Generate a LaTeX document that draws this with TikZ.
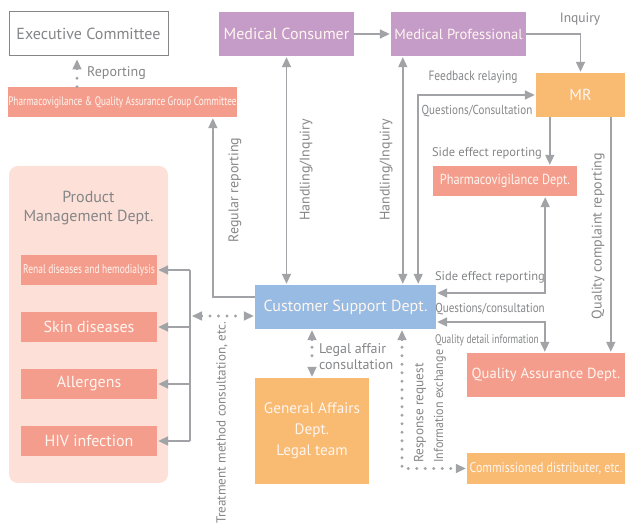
\documentclass[tikz,border=0pt]{standalone}
\usepackage{fontspec}
\setmainfont{PT Sans}
\newfontfamily\condfont[FakeStretch=0.85]{PT Sans}
\newfontfamily\ccondfont[FakeStretch=0.75]{PT Sans}
\newfontfamily\lcondfont[FakeStretch=0.93]{PT Sans}
\usetikzlibrary{arrows.meta,calc}
\definecolor{lgray}{HTML}{A2A3A6}
\definecolor{tgray}{HTML}{858688}
\definecolor{purp}{HTML}{C59CC8}
\definecolor{salm}{HTML}{F59D8D}
\definecolor{oran}{HTML}{F9BA72}
\definecolor{blu}{HTML}{97BBE2}
\definecolor{lpink}{HTML}{FDE0D8}
\definecolor{boxtext}{HTML}{FFF6F0}
\begin{document}
\begin{tikzpicture}[x=1pt,y=-1pt,
 box/.style={inner sep=0pt, align=center, text=boxtext, font=\fontsize{16}{21}\selectfont},
 cbox/.style={box, font=\condfont\fontsize{14}{16}\selectfont},
 lbl/.style={text=tgray, font=\fontsize{14}{16}\selectfont, inner sep=0pt},
 clbl/.style={text=tgray, font=\condfont\fontsize{13}{16}\selectfont, inner sep=0pt},
 tip/.tip={Triangle[length=10pt,width=9pt]},
 arr/.style={draw=lgray, line width=1.6pt, -tip, shorten >=1pt},
 dbl/.style={draw=lgray, line width=1.6pt, tip-tip, shorten >=1pt, shorten <=1pt},
 tiponly/.style={draw=lgray, line width=1.6pt, -tip},
 dots/.style={draw=lgray, line width=3.2pt, line cap=round, dash pattern=on 0pt off 8.5pt},
]
\useasboundingbox[fill=white] (0,0) rectangle (625,526);

% boxes
\node[box, draw=tgray, line width=1pt, fill=white, text=tgray, minimum width=159, minimum height=44] (exec) at (88.5,34) {Executive Committee};
\node[box, fill=purp, minimum width=135, minimum height=44] (mc) at (286.5,34) {Medical Consumer};
\node[box, fill=purp, minimum width=135, minimum height=44, font=\fontsize{14.6}{21}\selectfont] (mp) at (458.5,34) {Medical Professional};
\node[box, fill=oran, minimum width=89, minimum height=44] (mr) at (580.5,95) {MR};
\node[cbox, fill=salm, minimum width=227, minimum height=30, font=\ccondfont\fontsize{12.3}{15}\selectfont] (pqa) at (122.5,102) {Pharmacovigilance \& Quality Assurance Group Committee};
\node[cbox, fill=salm, minimum width=144, minimum height=30, font=\condfont\fontsize{14.5}{16}\selectfont] (pv) at (505,181) {Pharmacovigilance Dept.};
\node[fill=lpink, rounded corners=9pt, minimum width=159, minimum height=317, inner sep=0pt] (pm) at (88.5,324.5) {};
\node[text=tgray, align=center, font=\fontsize{16}{19}\selectfont, inner sep=0pt] (pmt) at (88.5,208) {Product\\Management Dept.};
\node[cbox, fill=salm, minimum width=136, minimum height=30, font=\ccondfont\fontsize{12.6}{15}\selectfont] (renal) at (89,270) {Renal diseases and hemodialysis};
\node[box, fill=salm, minimum width=136, minimum height=30] (skin) at (89,327) {Skin diseases};
\node[box, fill=salm, minimum width=136, minimum height=30] (allerg) at (89,384) {Allergens};
\node[box, fill=salm, minimum width=136, minimum height=30] (hiv) at (89,441) {HIV infection};
\node[box, fill=blu, minimum width=181, minimum height=44] (csd) at (345.5,307) {Customer Support Dept.};
\node[box, fill=salm, minimum width=158, minimum height=44, font=\fontsize{14.6}{21}\selectfont] (qa) at (546,375) {Quality Assurance Dept.};
\node[box, fill=oran, minimum width=114, minimum height=106, font=\fontsize{15.2}{21}\selectfont] (ga) at (312,431) {General Affairs\\Dept.\\Legal team};
\node[cbox, fill=oran, minimum width=158, minimum height=31] (comm) at (546,468.5) {Commissioned distributer, etc.};

% connectors
\draw[dots] (pqa.north -| 77,0) -- ([yshift=-14]exec.south -| 77,0);
\draw[tiponly] ([yshift=-13]exec.south -| 77,0) -- ([yshift=-3]exec.south -| 77,0);
\draw[arr] (mc.east) -- (mp.west);
\draw[arr] (mp.east) -| (mr.north);
\draw[dbl] (mr.west) -| ([xshift=-18]csd.north east);
\draw[dbl] ([xshift=12]mp.south west) -- ([xshift=12]mp.south west |- csd.north);
\draw[dbl] (mc.south) -- (mc.south |- csd.north);
\draw[arr] ([yshift=10]csd.west) -| ([xshift=-24]pqa.south east);
\draw[arr] ([xshift=14]mr.south west) -- ([xshift=14]mr.south west |- pv.north);
\draw[arr] ([xshift=75]mr.south west) -- ([xshift=75]mr.south west |- qa.north);
\draw[dbl] ([xshift=-32]pv.south east) |- ([yshift=14]csd.east);
\draw[dbl] ([yshift=-15]csd.east) -| ([xshift=78]qa.north west);

% product bus
\coordinate (bus) at (190,316);
\draw[draw=lgray, line width=1.6pt] (renal.east -| bus) -- (hiv.east -| bus);
\foreach \n in {renal,skin,allerg,hiv}{\draw[arr] (\n.east -| bus) -- (\n.east);}
\draw[dots] ([xshift=20]bus) -- ([yshift=-9,xshift=-17]csd.west);
\draw[tiponly] ([xshift=12]bus) -- ([xshift=2]bus);
\draw[tiponly] ([yshift=-9,xshift=-11]csd.west) -- ([yshift=-9,xshift=-1]csd.west);

% legal
\draw[dots] ([yshift=-18]csd.south -| ga.north) -- ([yshift=18]ga.north);
\draw[tiponly] ([yshift=-11]csd.south -| ga.north) -- ([yshift=-1]csd.south -| ga.north);
\draw[tiponly] ([yshift=11]ga.north) -- ([yshift=1]ga.north);

% response
\coordinate (rq) at (402,468.5);
\draw[dots] ([yshift=-18]csd.south -| rq) -- (rq) -- ([xshift=-16]comm.west);
\draw[tiponly] ([yshift=-11]csd.south -| rq) -- ([yshift=-1]csd.south -| rq);
\draw[tiponly] ([xshift=-11]comm.west) -- ([xshift=-1]comm.west);

% labels
\node[lbl, anchor=west] at (87,73) {Reporting};
\node[lbl, font=\fontsize{13.5}{16}\selectfont] at (580,19) {Inquiry};
\node[clbl, font=\condfont\fontsize{13.5}{16}\selectfont] at (473,77) {Feedback relaying};
\node[clbl] at (477,111) {Questions/Consultation};
\node[lbl, rotate=90] at (306,170) {Handling/Inquiry};
\node[lbl, rotate=90] at (386,170) {Handling/Inquiry};
\node[lbl, rotate=90] at (235,190) {Regular reporting};
\node[lbl, font=\fontsize{12.5}{16}\selectfont] at (487,153) {Side effect reporting};
\node[lbl, font=\fontsize{12.5}{16}\selectfont] at (490,277) {Side effect reporting};
\node[clbl] at (490,309) {Questions/consultation};
\node[clbl, font=\ccondfont\fontsize{12.5}{15}\selectfont] at (487,340) {Quality detail information};
\node[lbl, rotate=90] at (598,236) {Quality complaint reporting};
\node[lbl, align=left, anchor=west, font=\fontsize{14}{16}\selectfont] at (319,357) {Legal affair\\consultation};
\node[lbl, rotate=90, anchor=west, font=\fontsize{13.3}{16}\selectfont] at (420,463) {Response request};
\node[clbl, rotate=90, anchor=west, font=\lcondfont\fontsize{13}{16}\selectfont] at (440,463) {Information exchange};
\node[lbl, rotate=90, anchor=west, font=\fontsize{13.1}{16}\selectfont] at (222,524) {Treatment method consultation, etc.};
\end{tikzpicture}
\end{document}
